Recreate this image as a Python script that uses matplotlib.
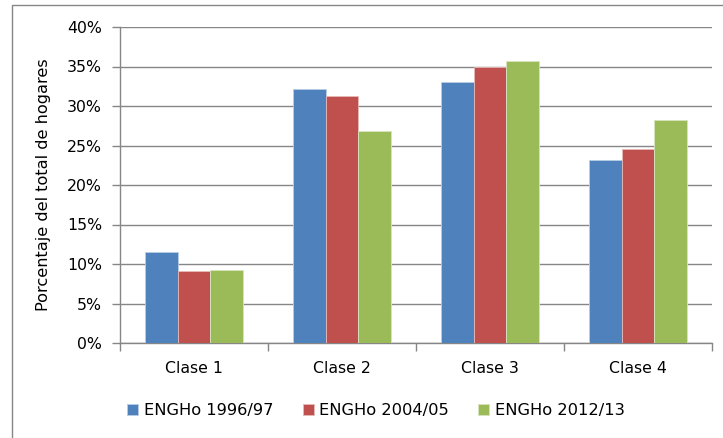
import matplotlib.pyplot as plt
import numpy as np
from matplotlib.patches import Rectangle
from matplotlib.ticker import FuncFormatter

plt.rcParams['font.family'] = ['DejaVu Sans']

# Data (percent of households)
categories = ['Clase 1', 'Clase 2', 'Clase 3', 'Clase 4']
series_names = ['ENGHo 1996/97', 'ENGHo 2004/05', 'ENGHo 2012/13']
engho_9697 = [11.5, 32.1, 33.1, 23.2]
engho_0405 = [9.1, 31.3, 34.9, 24.6]
engho_1213 = [9.2, 26.8, 35.7, 28.2]
colors = ['#4F81BD', '#C0504D', '#9BBB59']
edges = ['#B9CDE5', '#E6B9B8', '#D7E4BD']

fig = plt.figure(figsize=(7.23, 4.38), dpi=100)
# axes: x 120..712, y 27..343 in pixels
ax = fig.add_axes([120 / 723, 1 - 343 / 438, 592 / 723, 316 / 438])

x = np.arange(len(categories))
w = 0.221
for i, vals in enumerate([engho_9697, engho_0405, engho_1213]):
    ax.bar(x + (i - 1) * w, vals, width=w, color=colors[i], edgecolor=edges[i],
           linewidth=0.6, label=series_names[i], zorder=3)

ax.set_xlim(-0.5, 3.5)
ax.set_ylim(0, 40)
ax.set_yticks(np.arange(0, 41, 5))
ax.yaxis.set_major_formatter(FuncFormatter(lambda v, p: '%d%%' % v))
ax.grid(axis='y', color='#868686', linewidth=1.0, zorder=0)

fs = 11.3
ax.set_xticks(x)
ax.set_xticklabels(categories, fontsize=fs)
ax.set_xticks(np.arange(-0.5, 4.0, 1.0), minor=True)
ax.tick_params(axis='x', which='major', length=0, pad=13)
ax.tick_params(axis='x', which='minor', length=6, color='#868686', width=1)
ax.tick_params(axis='y', length=6, color='#868686', width=1, labelsize=fs, pad=7)

for s in ['top', 'right']:
    ax.spines[s].set_visible(False)
for s in ['left', 'bottom']:
    ax.spines[s].set_color('#868686')
    ax.spines[s].set_linewidth(1)

ax.set_ylabel('Porcentaje del total de hogares', fontsize=11.6)
ax.yaxis.set_label_coords(-69 / 592, 0.5)

leg = fig.legend(loc='center', bbox_to_anchor=(376 / 723, 1 - 411 / 438), ncol=3,
                 frameon=False, fontsize=11.7, handlelength=0.68, handleheight=0.68,
                 handletextpad=0.35, columnspacing=1.8)

# outer chart frame (clipped at right and bottom as in the original)
fig.patches.append(Rectangle((11.5 / 723, -0.05), 1.2, 1 - 4.5 / 438 + 0.05,
                             transform=fig.transFigure, fill=False,
                             edgecolor='#868686', linewidth=1.0))

fig.savefig('out.png', dpi=100)
